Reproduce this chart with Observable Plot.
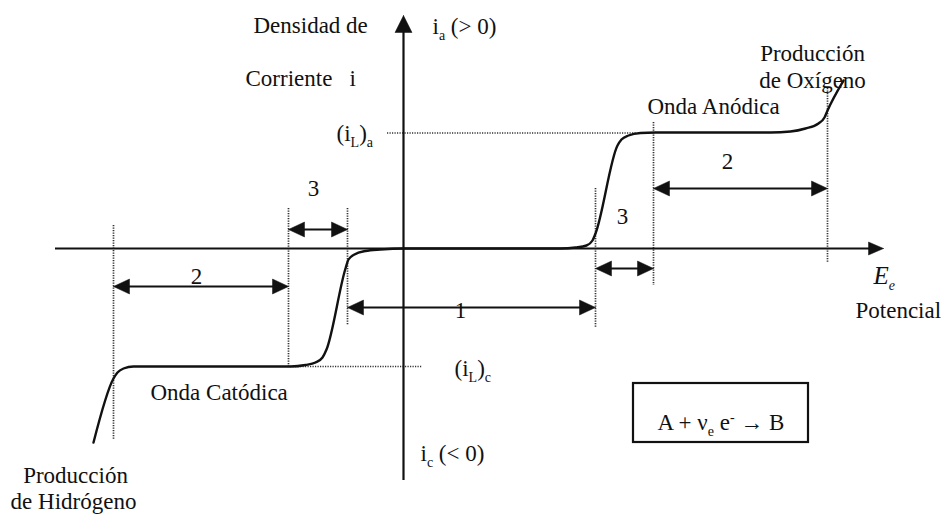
<!DOCTYPE html>
<html>
<head>
<meta charset="utf-8">
<script src="https://cdn.jsdelivr.net/npm/d3@7"></script>
<script src="https://cdn.jsdelivr.net/npm/@observablehq/plot@0.6"></script>
<style>
  html, body { margin: 0; padding: 0; background: #fff; }
  #chart svg { display: block; }
</style>
</head>
<body>
<div id="chart"></div>
<script>
// ---- Data (schematic units: potential E, current density i) ----
// Polarization curve: cathodic wave, zero-current region, anodic wave
const curveE = [-31.0, -29.0, -28.6, -28.0, -27.0, -11.3, -9.8, -8.8, -8.1, -7.7, -5.8, -5.5, -4.9, -3.8, -2.3,
                0, 15.7, 17.2, 18.3, 18.9, 19.2, 21.4, 21.8, 22.5, 23.7, 25.2, 36.7, 38.7, 40.2, 41.5, 42.1, 42.4, 44.0];
const curveI = [-19.4, -13.0, -12.4, -12.0, -11.8, -11.8, -11.65, -11.4, -10.9, -10.1, -2.0, -1.1, -0.6, -0.25, -0.1,
                0, 0, 0.1, 0.3, 0.8, 1.5, 10.3, 10.9, 11.3, 11.55, 11.6, 11.6, 11.7, 12.0, 12.5, 13.1, 13.8, 16.8];

// Limiting currents (dotted guides)
const limitLabels = ["(i_L)_a", "(i_L)_c"];
const limitI  = [11.55, -11.8];
const limitE1 = [-1.6, -11.3];
const limitE2 = [23.4, 1.9];

// Region boundaries (dotted verticals)
const boundE  = [-29.0, -11.5, -5.6, 19.2, 25.0, 42.4];
const boundI1 = [2.3, 4.0, 4.0, 6.0, 12.6, 16.0];
const boundI2 = [-19.2, -12.0, -7.7, -7.9, -3.7, -1.5];

// Region dimension arrows
const regionLabels = ["2", "3", "1", "3", "2"];
const regionE1 = [-29.0, -11.5, -5.6, 19.2, 25.0];
const regionE2 = [-11.5, -5.6, 19.2, 25.0, 42.4];
const regionI  = [-3.8, 1.9, -5.9, -2.0, 6.0];
const regionLabelE = [-20.7, -9.0, 5.7, 21.9, 32.4];
const regionLabelI = [-3.5, 5.3, -6.9, 2.5, 8.0];

// Axis extents
const axisE = [-34.8, 48.0];
const axisI = [-23.2, 23.3];

// Annotations (left-anchored)
const noteText = ["Densidad de", "Corriente\u00a0\u00a0\u00a0i", "i_a (> 0)", "(i_L)_a", "Onda Anódica",
                  "Potencial", "(i_L)_c", "i_c (< 0)", "A + ν_e e^- → B", "Onda Catódica"];
const noteE = [-15.0, -15.8, 2.9, -6.7, 24.4, 45.2, 5.1, 1.7, 25.4, -25.3];
const noteI = [21.6, 16.3, 21.5, 10.8, 13.5, -6.9, -12.7, -21.2, -18.1, -15.1];
// Centered annotations
const centerText = ["Producción", "de Oxígeno", "Producción", "de Hidrógeno"];
const centerE = [40.9, 40.9, -32.8, -33.0];
const centerI = [18.8, 16.1, -23.4, -26.0];
// Axis symbol
const axisSymbol = "E_e";
const axisSymbolE = 47.0, axisSymbolI = -3.5;

// Reaction box
const boxE = [23.0, 40.5];
const boxI = [-13.5, -19.4];

// ---- Build tables ----
const curve = curveE.map((E, k) => ({E, i: curveI[k]}));
const limits = limitI.map((i, k) => ({i, E1: limitE1[k], E2: limitE2[k]}));
const bounds = boundE.map((E, k) => ({E, i1: boundI1[k], i2: boundI2[k]}));
const regions = regionLabels.map((t, k) => ({t, E1: regionE1[k], E2: regionE2[k], i: regionI[k], lE: regionLabelE[k], lI: regionLabelI[k]}));
const notes = noteText.map((t, k) => ({t, E: noteE[k], i: noteI[k]}));
const centers = centerText.map((t, k) => ({t, E: centerE[k], i: centerI[k]}));

// Arrowhead triangles derived from arrow definitions
const heads = [];
let hid = 0;
function headH(tipE, i, dir, L, w) { // dir: +1 pointing right, -1 pointing left
  const id = hid++;
  heads.push({id, E: tipE, i}, {id, E: tipE - dir * L, i: i + w}, {id, E: tipE - dir * L, i: i - w}, {id, E: tipE, i});
}
function headV(E, tipI, dir, L, w) {
  const id = hid++;
  heads.push({id, E, i: tipI}, {id, E: E + w, i: tipI - dir * L}, {id, E: E - w, i: tipI - dir * L}, {id, E, i: tipI});
}
regions.forEach(r => { headH(r.E1, r.i, -1, 1.6, 0.75); headH(r.E2, r.i, 1, 1.6, 0.75); });
headH(axisE[1], 0, 1, 1.5, 0.65);
headV(0, axisI[1], 1, 1.7, 0.85);

const ink = "#111";
const font = "Liberation Serif, Times New Roman, serif";
const fs = 23;

const plot = Plot.plot({
  width: 941,
  height: 515,
  margin: 0,
  x: {domain: [-40.3, 53.8], range: [0, 941], axis: null},
  y: {domain: [-26.7, 24.8], range: [515, 0], axis: null},
  style: {fontFamily: font, background: "#fff"},
  marks: [
    // dotted guides
    Plot.ruleY(limits, {y: "i", x1: "E1", x2: "E2", stroke: "#333", strokeWidth: 1.7, strokeDasharray: "1.2,1.3"}),
    Plot.ruleX(bounds, {x: "E", y1: "i1", y2: "i2", stroke: "#333", strokeWidth: 1.7, strokeDasharray: "1.2,1.3"}),
    // axes
    Plot.ruleY([0], {x1: axisE[0], x2: axisE[1] - 1.4, stroke: ink, strokeWidth: 2.2}),
    Plot.ruleX([0], {y1: axisI[0], y2: axisI[1] - 1.6, stroke: ink, strokeWidth: 2.2}),
    // region arrows
    Plot.ruleY(regions, {y: "i", x1: d => d.E1 + 1, x2: d => d.E2 - 1, stroke: ink, strokeWidth: 2.2}),
    Plot.line(heads, {x: "E", y: "i", z: "id", fill: ink, stroke: ink, strokeWidth: 0.5, curve: "linear"}),
    // curve
    Plot.line(curve, {x: "E", y: "i", stroke: ink, strokeWidth: 2.4, curve: "monotone-x"}),
    // reaction box
    Plot.rect([0], {x1: boxE[0], x2: boxE[1], y1: boxI[0], y2: boxI[1], fill: "none", stroke: ink, strokeWidth: 2.2}),
    // labels
    Plot.text(regions, {x: "lE", y: "lI", text: "t", fontSize: fs, fill: ink, lineAnchor: "bottom", textAnchor: "middle"}),
    Plot.text(notes, {x: "E", y: "i", text: "t", fontSize: fs, fill: ink, lineAnchor: "bottom", textAnchor: "start"}),
    Plot.text(centers, {x: "E", y: "i", text: "t", fontSize: fs, fill: ink, lineAnchor: "bottom", textAnchor: "middle"}),
    Plot.text([axisSymbol], {x: axisSymbolE, y: axisSymbolI, text: d => d, fontSize: 25, fill: ink, lineAnchor: "bottom", textAnchor: "start", fontStyle: "italic"})
  ]
});

// Rich text: _x subscript, ^x superscript
plot.querySelectorAll("text").forEach(node => {
  const s = node.textContent;
  if (!/[_^]/.test(s)) return;
  const parts = [];
  let buf = "";
  for (let k = 0; k < s.length; k++) {
    const c = s[k];
    if ((c === "_" || c === "^") && k + 1 < s.length) {
      if (buf) parts.push({t: buf, kind: 0});
      buf = "";
      parts.push({t: s[k + 1], kind: c === "_" ? 1 : -1});
      k++;
    } else buf += c;
  }
  if (buf) parts.push({t: buf, kind: 0});
  node.textContent = "";
  let cur = 0;
  parts.forEach(p => {
    const target = p.kind === 1 ? 6 : p.kind === -1 ? -8 : 0;
    const ts = d3.select(node).append("tspan").text(p.t).attr("dy", target - cur);
    if (p.kind) ts.attr("font-size", 14);
    cur = target;
  });
});

document.getElementById("chart").appendChild(plot);
</script>
</body>
</html>
